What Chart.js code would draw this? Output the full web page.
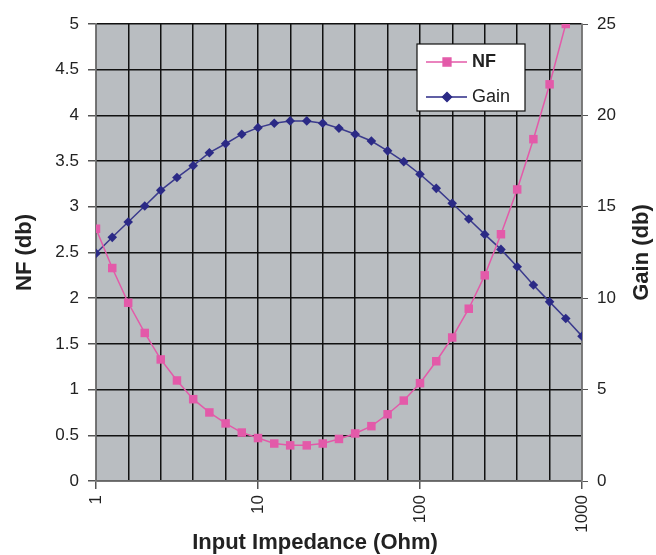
<!DOCTYPE html>
<html>
<head>
<meta charset="utf-8">
<script src="https://cdn.jsdelivr.net/npm/chart.js@4/dist/chart.umd.min.js"></script>
<style>
  html, body { margin: 0; padding: 0; background: #fff; }
  canvas { display: block; }
</style>
</head>
<body>
<canvas id="chart" width="656" height="555"></canvas>
<script>
// input impedance (Ohm), 10 points per decade
const impedance = [1, 1.26, 1.58, 2, 2.51, 3.16, 3.98, 5.01, 6.31, 7.94,
  10, 12.6, 15.8, 20, 25.1, 31.6, 39.8, 50.1, 63.1, 79.4,
  100, 126, 158, 200, 251, 316, 398, 501, 631, 794, 1000];

const nfValues = [2.76, 2.33, 1.95, 1.62, 1.33, 1.10, 0.895, 0.75, 0.63, 0.53,
  0.47, 0.41, 0.39, 0.39, 0.41, 0.46, 0.52, 0.60, 0.73, 0.88,
  1.07, 1.31, 1.57, 1.885, 2.25, 2.70, 3.19, 3.74, 4.34, 5.0];

const gainValues = [12.45, 13.33, 14.17, 15.04, 15.9, 16.6, 17.25, 17.96, 18.45, 18.97,
  19.33, 19.57, 19.7, 19.7, 19.57, 19.3, 18.97, 18.6, 18.06, 17.47,
  16.78, 16.01, 15.19, 14.33, 13.49, 12.67, 11.72, 10.72, 9.8, 8.89, 7.92];

// vertical grid lines every 0.2 decade, labels only on decades
const xGridValues = [1, 1.585, 2.512, 3.981, 6.31, 10, 15.85, 25.12, 39.81, 63.1,
  100, 158.5, 251.2, 398.1, 631, 1000];
const xLabels = [1, 10, 100, 1000];

const nfColor = "#e35aa9";
const gainColor = "#2b2a86";
const fontFamily = "Liberation Sans, Arial, sans-serif";

const toPoints = (vals) => vals.map((v, i) => ({ x: impedance[i], y: v }));

const tickFont = { family: fontFamily, size: 17 };
const titleFont = { family: fontFamily, size: 22, weight: "bold" };

// gray plot background
const plotBackground = {
    id: "plotBackground",
    beforeDraw(chart) {
        const a = chart.chartArea;
        const ctx = chart.ctx;
        ctx.save();
        ctx.fillStyle = "#b9bdc1";
        ctx.fillRect(a.left, a.top, a.right - a.left, a.bottom - a.top);
        ctx.restore();
    }
};

// boxed legend inside the plot, x title, right axis title read bottom-to-top
const extras = {
    id: "extras",
    afterDraw(chart) {
        const a = chart.chartArea;
        const ctx = chart.ctx;
        const x = a.left + 321, y = a.top + 20, w = 108, h = 67;
        ctx.save();
        ctx.fillStyle = "#fff";
        ctx.fillRect(x, y, w, h);
        ctx.strokeStyle = "#111";
        ctx.lineWidth = 1.2;
        ctx.strokeRect(x, y, w, h);
        const rows = [
            { label: "NF", color: nfColor, style: "rect", r: 5.5, cy: y + 18, weight: "bold" },
            { label: "Gain", color: gainColor, style: "rectRot", r: 4.5, cy: y + 53, weight: "normal" }
        ];
        rows.forEach(row => {
            ctx.strokeStyle = row.color;
            ctx.lineWidth = 1.5;
            ctx.beginPath();
            ctx.moveTo(x + 9, row.cy);
            ctx.lineTo(x + 50, row.cy);
            ctx.stroke();
            ctx.fillStyle = row.color;
            Chart.helpers.drawPoint(ctx, { pointStyle: row.style, radius: row.r, borderWidth: 1 }, x + 30, row.cy);
            ctx.fillStyle = "#222";
            ctx.font = row.weight + " 18px " + fontFamily;
            ctx.textBaseline = "middle";
            ctx.textAlign = "left";
            ctx.fillText(row.label, x + 55, row.cy);
        });
        ctx.restore();

        ctx.save();
        ctx.fillStyle = "#222";
        ctx.font = "bold 22px " + fontFamily;
        ctx.textAlign = "center";
        ctx.textBaseline = "middle";
        ctx.fillText("Input Impedance (Ohm)", 315, 543);
        ctx.translate(642, (a.top + a.bottom) / 2);
        ctx.rotate(-Math.PI / 2);
        ctx.fillText("Gain (db)", 0, 0);
        ctx.restore();
    }
};

const ctx = document.getElementById("chart").getContext("2d");
new Chart(ctx, {
    type: "line",
    data: {
        datasets: [
            {
                label: "NF",
                data: toPoints(nfValues),
                yAxisID: "y",
                borderColor: nfColor,
                backgroundColor: nfColor,
                borderWidth: 1.5,
                pointStyle: "rect",
                pointRadius: 6,
                pointBorderWidth: 0,
                tension: 0
            },
            {
                label: "Gain",
                data: toPoints(gainValues),
                yAxisID: "y1",
                borderColor: "#3a3a8c",
                backgroundColor: gainColor,
                borderWidth: 1.5,
                pointStyle: "rectRot",
                pointRadius: 4.8,
                pointBorderWidth: 0,
                tension: 0
            }
        ]
    },
    options: {
        responsive: false,
        animation: false,
        layout: { padding: { top: 24, left: 0, right: 0, bottom: 0 } },
        plugins: {
            legend: { display: false },
            tooltip: { enabled: false }
        },
        scales: {
            x: {
                type: "logarithmic",
                min: 1,
                max: 1000,
                afterBuildTicks(scale) {
                    scale.ticks = xGridValues.map(v => ({ value: v }));
                },
                afterFit(scale) { scale.height = 74; },
                ticks: {
                    autoSkip: false,
                    minRotation: 90,
                    maxRotation: 90,
                    padding: 6,
                    color: "#222",
                    font: tickFont,
                    callback: (v) => xLabels.includes(v) ? String(v) : ""
                },
                grid: {
                    color: "#111",
                    lineWidth: 1.5,
                    tickLength: 8,
                    tickColor: (c) => xLabels.includes(c.tick && c.tick.value) ? "#555" : "rgba(0,0,0,0)"
                },
                border: { color: "#666", width: 1.5 }
            },
            y: {
                position: "left",
                min: 0,
                max: 5,
                afterFit(scale) { scale.width = 96; },
                ticks: {
                    stepSize: 0.5,
                    padding: 9,
                    color: "#222",
                    font: tickFont,
                    callback: (v) => String(Math.round(v * 10) / 10)
                },
                grid: {
                    color: "#111",
                    lineWidth: 1.5,
                    tickLength: 8,
                    tickColor: "#555"
                },
                border: { color: "#777", width: 1.5 },
                title: {
                    display: true,
                    text: "NF (db)",
                    color: "#222",
                    font: titleFont,
                    padding: { top: 12, bottom: 0 }
                }
            },
            y1: {
                position: "right",
                min: 0,
                max: 25,
                afterFit(scale) { scale.width = 74; },
                ticks: {
                    stepSize: 5,
                    padding: 9,
                    color: "#222",
                    font: tickFont
                },
                grid: {
                    drawOnChartArea: false,
                    tickLength: 6,
                    tickColor: "#555"
                },
                border: { color: "#777", width: 1.5 }
            }
        }
    },
    plugins: [plotBackground, extras]
});
</script>
</body>
</html>
